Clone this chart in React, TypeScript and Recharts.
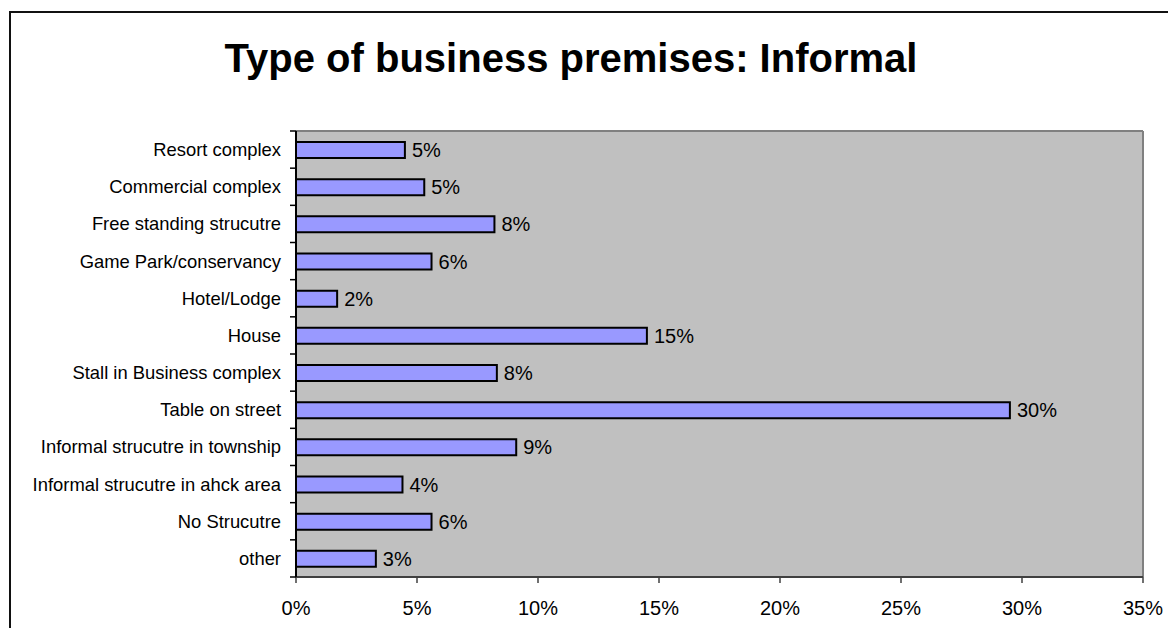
import { BarChart, Bar, XAxis, YAxis, CartesianGrid, LabelList } from 'recharts';

const categories = [
    'Resort complex',
    'Commercial complex',
    'Free standing strucutre',
    'Game Park/conservancy',
    'Hotel/Lodge',
    'House',
    'Stall in Business complex',
    'Table on street',
    'Informal strucutre in township',
    'Informal strucutre in ahck area',
    'No Strucutre',
    'other',
];

// share of respondents, in percent
const shares = [4.5, 5.3, 8.2, 5.6, 1.7, 14.5, 8.3, 29.5, 9.1, 4.4, 5.6, 3.3];
const shareLabels = ['5%', '5%', '8%', '6%', '2%', '15%', '8%', '30%', '9%', '4%', '6%', '3%'];
const xTicks = [0, 5, 10, 15, 20, 25, 30, 35];

const data = categories.map((name, i) => ({ name, value: shares[i], label: shareLabels[i] }));

const FONT = '"Liberation Sans", Arial, sans-serif';
const CHART_W = 1160;
const CHART_H = 620;
const MARGIN = { top: 123, right: 25, left: 0, bottom: 11 };
const Y_W = 288;
const X_H = 40;
const PLOT_H = CHART_H - MARGIN.top - MARGIN.bottom - X_H;

function CategoryTick(props: any) {
    const { x, y, payload, index } = props;
    const band = PLOT_H / categories.length;
    const isLast = index === categories.length - 1;
    return (
        <g>
            <text x={x - 15} y={y} dy="0.35em" textAnchor="end" fill="#000" fontSize={18.4} fontFamily={FONT}>
                {payload.value}
            </text>
            <line x1={x - 6} x2={x} y1={y - band / 2} y2={y - band / 2} stroke="#000" strokeWidth={1.5} />
            {isLast && <line x1={x - 6} x2={x} y1={y + band / 2} y2={y + band / 2} stroke="#000" strokeWidth={1.5} />}
        </g>
    );
}

export default function App() {
    return (
        <div style={{ position: 'relative', width: CHART_W, height: CHART_H, overflow: 'hidden', fontFamily: FONT }}>
            <div
                style={{
                    position: 'absolute',
                    left: 1,
                    top: 3,
                    width: 1400,
                    height: 900,
                    border: '2px solid #111',
                }}
            />
            <div
                style={{
                    position: 'absolute',
                    left: 0,
                    top: 30,
                    width: 1126,
                    textAlign: 'center',
                    fontSize: 40,
                    lineHeight: '40px',
                    fontWeight: 'bold',
                    color: '#000',
                }}
            >
                Type of business premises: Informal
            </div>
            <div style={{ position: 'absolute', left: 0, top: 0 }}>
                <BarChart
                    width={CHART_W}
                    height={CHART_H}
                    data={data}
                    layout="vertical"
                    margin={MARGIN}
                    barSize={16}
                >
                    <CartesianGrid
                        fill="#C0C0C0"
                        fillOpacity={1}
                        stroke="#808080"
                        strokeWidth={2}
                        horizontalCoordinatesGenerator={(p: any) => [p?.offset ? p.offset.top : MARGIN.top]}
                        verticalCoordinatesGenerator={(p: any) => [
                            p?.offset ? p.offset.left + p.offset.width : CHART_W - MARGIN.right,
                        ]}
                    />
                    <XAxis
                        type="number"
                        domain={[0, 35]}
                        ticks={xTicks}
                        tickFormatter={(v: number) => `${v}%`}
                        height={X_H}
                        tickSize={6}
                        tickMargin={18}
                        axisLine={{ stroke: '#404040', strokeWidth: 2 }}
                        tickLine={{ stroke: '#404040', strokeWidth: 1.5 }}
                        tick={{ fill: '#000', fontSize: 20, fontFamily: FONT }}
                        allowDataOverflow
                    />
                    <YAxis
                        type="category"
                        dataKey="name"
                        width={Y_W}
                        tickLine={false}
                        tickSize={0}
                        tickMargin={0}
                        interval={0}
                        axisLine={{ stroke: '#000', strokeWidth: 2 }}
                        tick={<CategoryTick />}
                    />
                    <Bar dataKey="value" fill="#9999FF" stroke="#000" strokeWidth={2} isAnimationActive={false}>
                        <LabelList dataKey="label" position="right" offset={7} fill="#000" fontSize={20} fontFamily={FONT} />
                    </Bar>
                </BarChart>
            </div>
        </div>
    );
}
